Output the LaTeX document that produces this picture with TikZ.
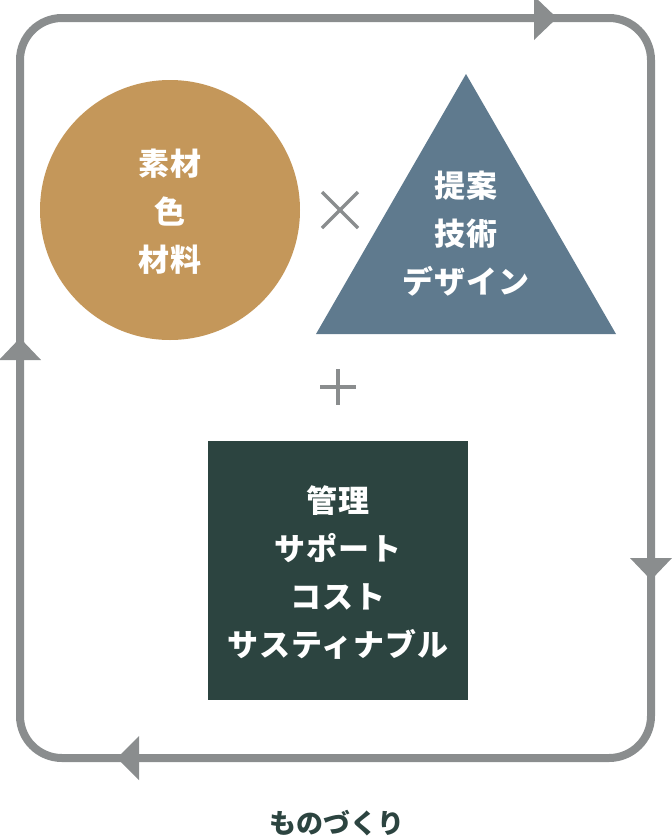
\documentclass[tikz,border=0pt]{standalone}
\usepackage{fontspec}
\newfontfamily\jpfont{Noto Sans CJK JP}
\usetikzlibrary{positioning}

\definecolor{loopgray}{HTML}{8A8D8E}
\definecolor{materialbrown}{HTML}{C4975A}
\definecolor{designblue}{HTML}{5F7A8E}
\definecolor{managegreen}{HTML}{2C4440}

\tikzset{
	loopline/.style={draw=loopgray, line width=8pt, rounded corners=42pt},
	headtip/.style={fill=loopgray},
	label/.style={text=white, align=center, font=\jpfont\bfseries\fontsize{31}{48}\selectfont\addfontfeatures{LetterSpace=3}},
	signline/.style={draw=loopgray, line width=3.5pt}
}

\begin{document}
\begin{tikzpicture}[x=1pt, y=-1pt]
			\useasboundingbox (0,0) rectangle (672,836);
			
			% Loop around the whole process
			\draw[loopline] (20,18) rectangle (651,758);
			
			% Arrow heads on the loop
			\fill[headtip] (534,-4) -- (557,18) -- (534,40) -- cycle;
			\fill[headtip] (630,558) -- (651,580) -- (672,558) -- cycle;
			\fill[headtip] (139,736) -- (117,758) -- (139,780) -- cycle;
			\fill[headtip] (-1,360) -- (20,338) -- (41,360) -- cycle;
			
			% Material circle
			\node[circle, fill=materialbrown, minimum size=260pt, inner sep=0pt] (material) at (170,210) {};
			\node[label] (materialtext) at (170,212) {素材\\色\\材料};
			
			% Design triangle
			\fill[designblue] (466,74) -- (616,334) -- (316,334) -- cycle;
			\node[label] (designtext) at (466,234) {提案\\技術\\デザイン};
			
			% Times and plus signs
			\coordinate (times) at (340,210);
			\draw[signline] ([shift={(-18,-18)}]times) -- ([shift={(18,18)}]times);
			\draw[signline] ([shift={(-18,18)}]times) -- ([shift={(18,-18)}]times);
			\coordinate (plus) at (338,387);
			\draw[signline, line width=4pt] ([shift={(-18,0)}]plus) -- ([shift={(18,0)}]plus);
			\draw[signline, line width=4pt] ([shift={(0,-18)}]plus) -- ([shift={(0,18)}]plus);
			
			% Management square
			\node[rectangle, fill=managegreen, minimum width=260pt, minimum height=259pt, inner sep=0pt] (manage) at (338,570.5) {};
			\node[label] (managetext) at (338,573) {管理\\サポート\\コスト\\サスティナブル};
			
			% Caption
			\node[text=managegreen, font=\jpfont\bfseries\fontsize{27}{30}\selectfont] (caption) at (337,823) {ものづくり};
			
		\end{tikzpicture}
\end{document}
